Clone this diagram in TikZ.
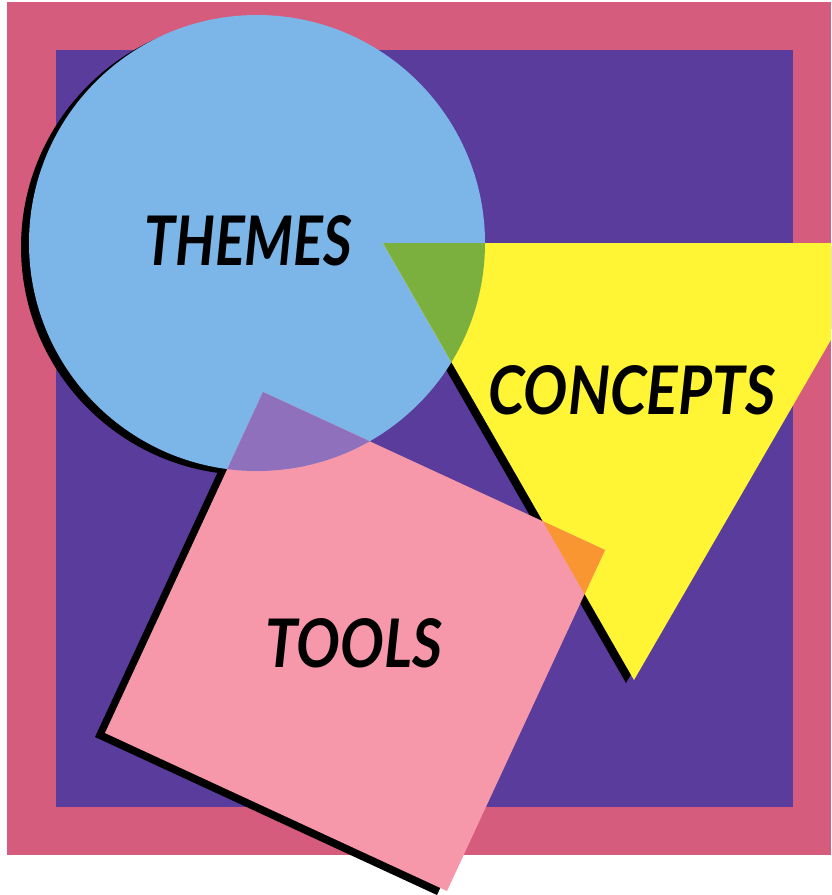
\documentclass[tikz,border=0pt]{standalone}
\usepackage{fontspec}
\setmainfont{Lato}
\usepackage{graphicx}
\definecolor{framepink}{RGB}{213,92,124}
\definecolor{bgpurple}{RGB}{90,60,156}
\definecolor{circblue}{RGB}{124,182,232}
\definecolor{triyellow}{RGB}{255,245,52}
\definecolor{sqpink}{RGB}{246,152,170}
\definecolor{ovgreen}{RGB}{124,176,62}
\definecolor{ovorange}{RGB}{250,150,50}
\definecolor{ovlilac}{RGB}{142,112,188}
\tikzset{
  shadowfill/.style={fill=black},
  lbl/.style={inner sep=0pt, anchor=base west, font=\bfseries\itshape}
}
\begin{document}
\begin{tikzpicture}[x=1pt,y=-1pt]
\useasboundingbox (0,0) rectangle (831,895);
\clip (0,0) rectangle (831,895);
\fill[white] (0,0) rectangle (831,895);
% frame and background
\fill[framepink] (7,2) rectangle (831,855);
\fill[bgpurple] (56,50) rectangle (793,807);
% shadows
\fill[shadowfill, shift={(-8,4)}] (257,243) circle (228);
\fill[shadowfill, shift={(-8,3)}] (383,243) -- (887,243) -- (634,680) -- cycle;
\fill[shadowfill, shift={(-10,4)}] (263,392) -- (605,550) -- (447,891) -- (105,733) -- cycle;
% shapes
\fill[circblue] (257,243) circle (228);
\fill[triyellow] (383,243) -- (887,243) -- (634,680) -- cycle;
\fill[sqpink] (263,392) -- (605,550) -- (447,891) -- (105,733) -- cycle;
% overlaps
\begin{scope}
  \clip (257,243) circle (228);
  \fill[ovgreen] (383,243) -- (887,243) -- (634,680) -- cycle;
\end{scope}
\begin{scope}
  \clip (257,243) circle (228);
  \fill[ovlilac] (263,392) -- (605,550) -- (447,891) -- (105,733) -- cycle;
\end{scope}
\begin{scope}
  \clip (383,243) -- (887,243) -- (634,680) -- cycle;
  \fill[ovorange] (263,392) -- (605,550) -- (447,891) -- (105,733) -- cycle;
\end{scope}
% labels
\node[lbl] (themes) at (144,265) {\resizebox{208pt}{50pt}{THEMES}};
\node[lbl] (concepts) at (488,414) {\resizebox{287pt}{49pt}{CONCEPTS}};
\node[lbl] (tools) at (265,667) {\resizebox{177pt}{49pt}{TOOLS}};
\end{tikzpicture}
\end{document}
